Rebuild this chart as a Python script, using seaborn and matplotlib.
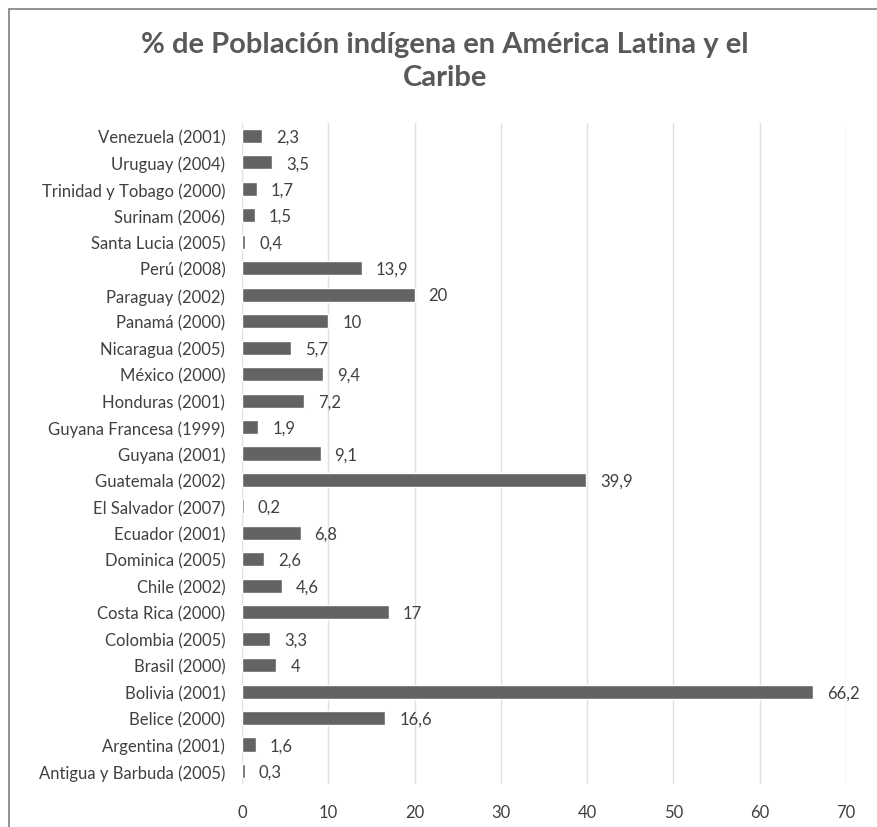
import matplotlib
matplotlib.use("Agg")
import matplotlib.pyplot as plt
import matplotlib.patches as patches
import seaborn as sns
import pandas as pd

paises = ["Venezuela (2001)", "Uruguay (2004)", "Trinidad y Tobago (2000)", "Surinam (2006)",
          "Santa Lucia (2005)", "Perú (2008)", "Paraguay (2002)", "Panamá (2000)",
          "Nicaragua (2005)", "México (2000)", "Honduras (2001)", "Guyana Francesa (1999)",
          "Guyana (2001)", "Guatemala (2002)", "El Salvador (2007)", "Ecuador (2001)",
          "Dominica (2005)", "Chile (2002)", "Costa Rica (2000)", "Colombia (2005)",
          "Brasil (2000)", "Bolivia (2001)", "Belice (2000)", "Argentina (2001)",
          "Antigua y Barbuda (2005)"]
porcentaje = [2.3, 3.5, 1.7, 1.5, 0.4, 13.9, 20, 10, 5.7, 9.4, 7.2, 1.9, 9.1, 39.9, 0.2,
              6.8, 2.6, 4.6, 17, 3.3, 4, 66.2, 16.6, 1.6, 0.3]
etiquetas = ["2,3", "3,5", "1,7", "1,5", "0,4", "13,9", "20", "10", "5,7", "9,4", "7,2", "1,9",
             "9,1", "39,9", "0,2", "6,8", "2,6", "4,6", "17", "3,3", "4", "66,2", "16,6",
             "1,6", "0,3"]
xticks = [0, 10, 20, 30, 40, 50, 60, 70]

df = pd.DataFrame({"pais": paises, "pct": porcentaje})

sns.set_style("white")
plt.rcParams["font.family"] = ["Lato", "DejaVu Sans"]

fig = plt.figure(figsize=(8.78, 8.28), dpi=100)
ax = fig.add_axes([0.2756, 0.0517, 0.688, 0.7988])

sns.barplot(data=df, x="pct", y="pais", color="#636366", width=0.53,
            saturation=1, ax=ax, zorder=3)

for i, (v, t) in enumerate(zip(porcentaje, etiquetas)):
    ax.annotate(t, xy=(v, i), xytext=(10, -0.5), textcoords="offset points",
                va="center", ha="left", fontsize=12, color="#404040")

ax.set_xlim(0, 70)
ax.set_xticks(xticks)
ax.set_xticklabels([str(x) for x in xticks], fontsize=12, color="#404040")
ax.tick_params(axis="y", labelsize=12, labelcolor="#404040", length=0, pad=12)
ax.tick_params(axis="x", length=0, pad=14)
ax.set_xlabel("")
ax.set_ylabel("")
ax.grid(axis="x", color="#e0e0e0", linewidth=1, zorder=0)
for s in ax.spines.values():
    s.set_visible(False)

fig.text(0.507, 0.926, "% de Población indígena en América Latina y el\nCaribe",
         ha="center", va="center", fontsize=21, fontweight="bold", color="#595959",
         linespacing=1.35)

border = patches.Rectangle((0.0103, -0.01), 1.0, 0.998, transform=fig.transFigure,
                           fill=False, edgecolor="#7f7f7f", linewidth=1.2)
fig.patches.append(border)

fig.savefig("out.png", dpi=100)
